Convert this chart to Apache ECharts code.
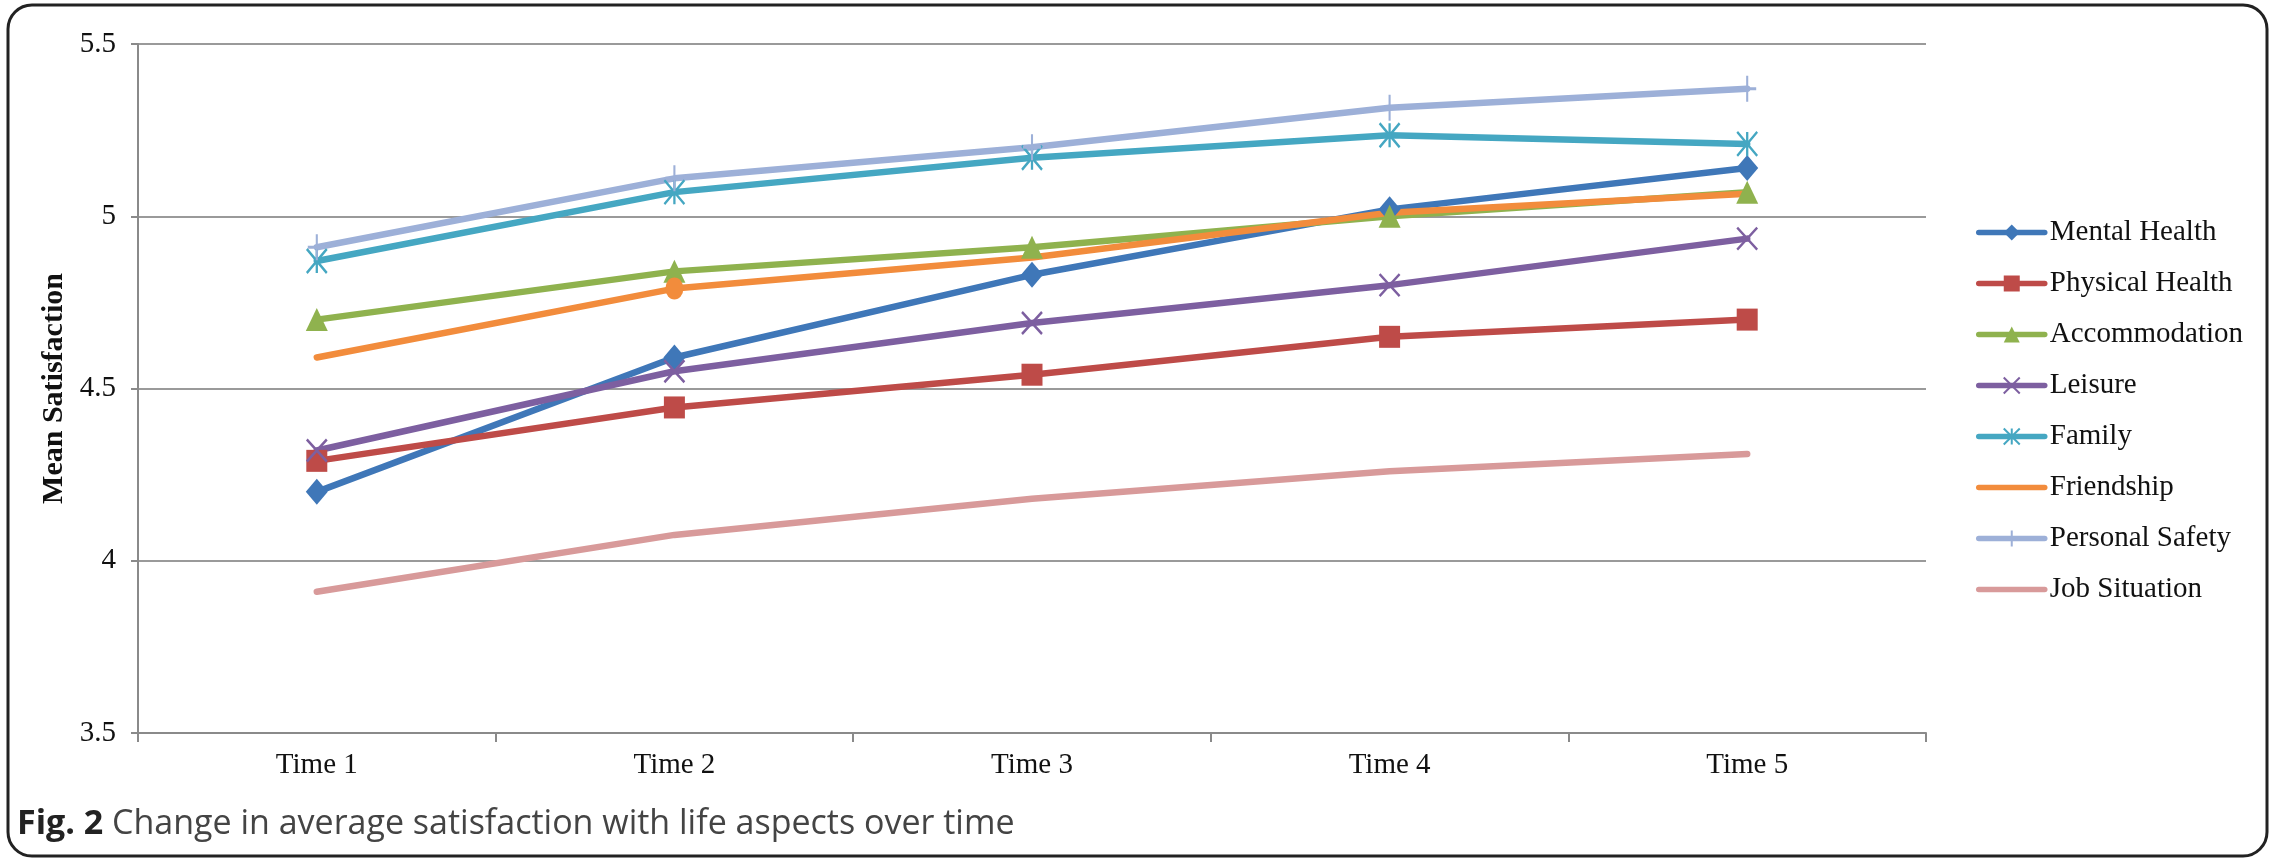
<!DOCTYPE html>
<html>
<head>
<meta charset="utf-8">
<script src="https://cdn.jsdelivr.net/npm/echarts@6/dist/echarts.min.js"></script>
<style>
html,body{margin:0;padding:0;background:#fff;}
#chart{width:2280px;height:859px;}
</style>
</head>
<body>
<div id="chart"></div>
<script>
const categories = ['Time 1', 'Time 2', 'Time 3', 'Time 4', 'Time 5'];
const seriesNames = ['Mental Health', 'Physical Health', 'Accommodation', 'Leisure', 'Family', 'Friendship', 'Personal Safety', 'Job Situation'];
const mentalHealth   = [4.20, 4.59, 4.83, 5.02, 5.14];
const physicalHealth = [4.29, 4.445, 4.54, 4.65, 4.70];
const accommodation  = [4.70, 4.84, 4.91, 5.00, 5.07];
const leisure        = [4.32, 4.55, 4.69, 4.80, 4.935];
const family         = [4.87, 5.07, 5.17, 5.235, 5.21];
const friendship     = [4.59, 4.79, 4.88, 5.01, 5.065];
const personalSafety = [4.91, 5.11, 5.20, 5.315, 5.37];
const jobSituation   = [3.91, 4.075, 4.18, 4.26, 4.31];
const yTicks = [3.5, 4, 4.5, 5, 5.5];

const colors = ['#3F77B8', '#BE4B48', '#8FB24E', '#7D5FA0', '#45A7C2', '#F28C3C', '#9DB0D8', '#D89A9A'];
const serif = "'Liberation Serif', 'Times New Roman', serif";

const X_PATH = 'path://M0,0L10,10M10,0L0,10';
const AST_PATH = 'path://M0,0L10,10M10,0L0,10M5,0L5,10';
const PLUS_PATH = 'path://M5,0L5,10M0,5L10,5';

function mk(name, data, color, symbol, size, stroke) {
  return {
    name: name,
    type: 'line',
    data: data,
    symbol: symbol,
    symbolSize: size,
    showSymbol: true,
    z: 3,
    lineStyle: { color: color, width: 6.5, cap: 'round', join: 'round' },
    itemStyle: stroke ? { color: color, borderColor: color, borderWidth: 2.5 } : { color: color, borderWidth: 0 },
    emphasis: { disabled: true },
    animation: false
  };
}

const friendshipData = friendship.map((v, i) => i === 1 ? { value: v, symbol: 'circle', symbolSize: [18, 22] } : v);

const series = [
  mk(seriesNames[0], mentalHealth, colors[0], 'diamond', [22, 26], false),
  mk(seriesNames[1], physicalHealth, colors[1], 'rect', [21, 22], false),
  mk(seriesNames[2], accommodation, colors[2], 'triangle', [22, 23], false),
  mk(seriesNames[3], leisure, colors[3], X_PATH, [20, 22], true),
  mk(seriesNames[4], family, colors[4], AST_PATH, [20, 24], true),
  mk(seriesNames[5], friendshipData, colors[5], 'none', 16, false),
  mk(seriesNames[6], personalSafety, colors[6], PLUS_PATH, [18, 26], true),
  mk(seriesNames[7], jobSituation, colors[7], 'none', 10, false)
];

const legendData = seriesNames.map(n => (n === 'Friendship' || n === 'Job Situation') ? { name: n, itemStyle: { opacity: 0 } } : n);

const chart = echarts.init(document.getElementById('chart'), null, { renderer: 'canvas' });
chart.setOption({
  backgroundColor: '#fff',
  animation: false,
  color: colors,
  grid: { left: 138, right: 354, top: 44, bottom: 126, containLabel: false },
  xAxis: {
    type: 'category',
    data: categories,
    boundaryGap: true,
    axisLine: { show: true, lineStyle: { color: '#8a8a8a', width: 2 } },
    axisTick: { show: true, length: 9, alignWithLabel: false, lineStyle: { color: '#8a8a8a', width: 2 } },
    axisLabel: { fontFamily: serif, fontSize: 29, color: '#111', margin: 18 },
    splitLine: { show: false }
  },
  yAxis: {
    type: 'value',
    min: yTicks[0],
    max: yTicks[yTicks.length - 1],
    interval: 0.5,
    name: 'Mean Satisfaction',
    nameLocation: 'middle',
    nameGap: 66,
    nameTextStyle: { fontFamily: serif, fontSize: 30, fontWeight: 'bold', color: '#111' },
    axisLine: { show: true, lineStyle: { color: '#8a8a8a', width: 2 } },
    axisTick: { show: true, length: 7, lineStyle: { color: '#8a8a8a', width: 2 } },
    axisLabel: { fontFamily: serif, fontSize: 29, color: '#111', margin: 22 },
    splitLine: { show: true, lineStyle: { color: '#9a9a9a', width: 2 } }
  },
  legend: {
    orient: 'vertical',
    left: 1971,
    top: 213,
    itemWidth: 66,
    itemHeight: 20,
    itemGap: 22,
    data: legendData,
    lineStyle: { width: 5.5 },
    textStyle: { fontFamily: serif, fontSize: 29, color: '#111' },
    selectedMode: false
  },
  graphic: [
    {
      type: 'rect',
      shape: { x: 8, y: 5, width: 2259, height: 851, r: 24 },
      style: { fill: 'none', stroke: '#222', lineWidth: 3 },
      silent: true, z: 10
    },
    {
      type: 'text',
      left: 17,
      top: 807,
      style: {
        text: '{b|Fig. 2} Change in average satisfaction with life aspects over time',
        rich: {
          b: { fontFamily: "'Open Sans', 'Noto Sans', sans-serif", fontSize: 34, fontWeight: 'bold', fill: '#222' }
        },
        fontFamily: "'Open Sans', 'Noto Sans', sans-serif",
        fontSize: 34,
        fill: '#444'
      },
      silent: true, z: 10
    }
  ],
  series: series
});
</script>
</body>
</html>
